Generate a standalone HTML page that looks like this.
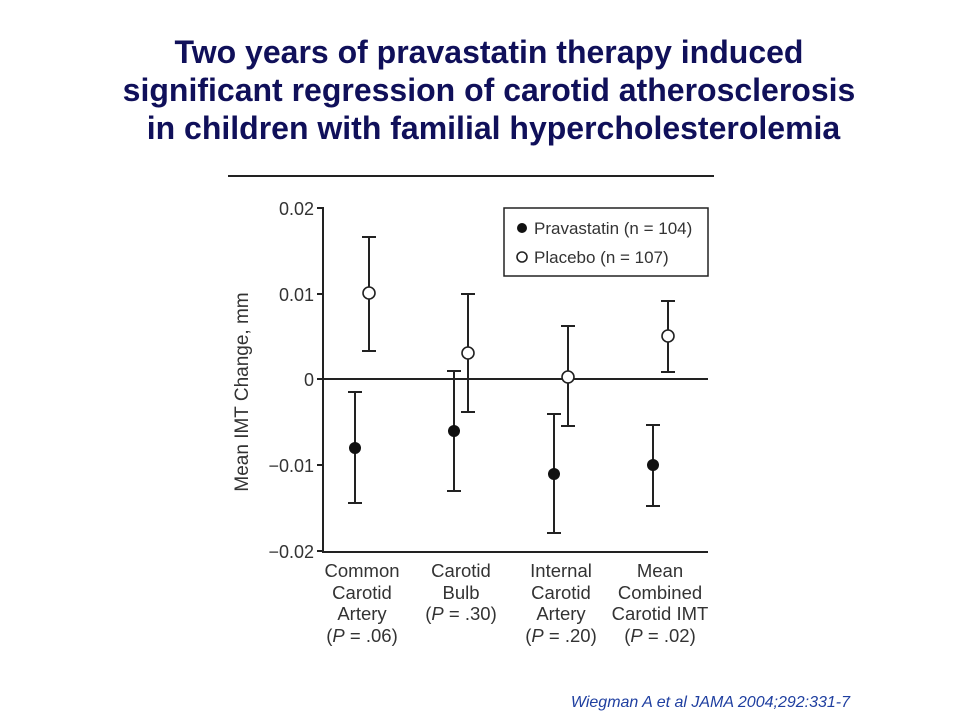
<!DOCTYPE html>
<html><head><style>
body{margin:0;width:960px;height:720px;background:#fff;overflow:hidden;font-family:"Liberation Sans",sans-serif}
.t{position:absolute;left:9px;width:960px;text-align:center;color:#10105a;font-weight:bold;font-size:32px;line-height:38px;top:33px}
.c{position:absolute;right:110px;top:694px;font-style:italic;color:#1f3fa0;font-size:16px}
</style></head><body>
<div class="t">Two years of pravastatin therapy induced<br>significant regression of carotid atherosclerosis<br>&nbsp;in children with familial hypercholesterolemia</div>
<svg width="960" height="720" style="position:absolute;left:0;top:0" font-family="Liberation Sans, sans-serif">
<g stroke="#222" stroke-width="2" fill="none">
<line x1="228" y1="176" x2="714" y2="176"/>
<line x1="323" y1="207" x2="323" y2="552"/>
<line x1="322" y1="552" x2="708" y2="552"/>
<line x1="323" y1="379" x2="708" y2="379"/>
<line x1="317" y1="208" x2="323" y2="208"/><line x1="317" y1="294" x2="323" y2="294"/><line x1="317" y1="379" x2="323" y2="379"/><line x1="317" y1="465" x2="323" y2="465"/><line x1="317" y1="551" x2="323" y2="551"/>
<rect x="504" y="208" width="204" height="68" stroke-width="1.5"/>
<path d="M355 392V503M348 392H362M348 503H362"/>
<path d="M369 237V351M362 237H376M362 351H376"/>
<path d="M454 371V491M447 371H461M447 491H461"/>
<path d="M468 294V412M461 294H475M461 412H475"/>
<path d="M554 414V533M547 414H561M547 533H561"/>
<path d="M568 326V426M561 326H575M561 426H575"/>
<path d="M653 425V506M646 425H660M646 506H660"/>
<path d="M668 301V372M661 301H675M661 372H675"/>
</g>
<g fill="#111"><circle cx="355" cy="448" r="6"/><circle cx="454" cy="431" r="6"/><circle cx="554" cy="474" r="6"/><circle cx="653" cy="465" r="6"/><circle cx="522" cy="228" r="5"/></g>
<g fill="#fff" stroke="#222" stroke-width="1.6"><circle cx="369" cy="293" r="6"/><circle cx="468" cy="353" r="6"/><circle cx="568" cy="377" r="6"/><circle cx="668" cy="336" r="6"/><circle cx="522" cy="257" r="5"/></g>
<g fill="#333" font-size="18">
<text x="534" y="234" font-size="17">Pravastatin (n = 104)</text>
<text x="534" y="263" font-size="17">Placebo (n = 107)</text>
<g text-anchor="end"><text x="314" y="215">0.02</text><text x="314" y="301">0.01</text><text x="314" y="386">0</text><text x="314" y="472">−0.01</text><text x="314" y="558">−0.02</text></g>
<text transform="translate(248,392) rotate(-90)" text-anchor="middle" font-size="19">Mean IMT Change, mm</text>
<g text-anchor="middle" font-size="18.5">
<text x="362" y="577">Common</text><text x="362" y="599">Carotid</text><text x="362" y="620">Artery</text><text x="362" y="642">(<tspan font-style="italic">P</tspan> = .06)</text>
<text x="461" y="577">Carotid</text><text x="461" y="599">Bulb</text><text x="461" y="620">(<tspan font-style="italic">P</tspan> = .30)</text>
<text x="561" y="577">Internal</text><text x="561" y="599">Carotid</text><text x="561" y="620">Artery</text><text x="561" y="642">(<tspan font-style="italic">P</tspan> = .20)</text>
<text x="660" y="577">Mean</text><text x="660" y="599">Combined</text><text x="660" y="620">Carotid IMT</text><text x="660" y="642">(<tspan font-style="italic">P</tspan> = .02)</text>
</g></g>
</svg>
<div class="c">Wiegman A et al JAMA 2004;292:331-7</div>
</body></html>
